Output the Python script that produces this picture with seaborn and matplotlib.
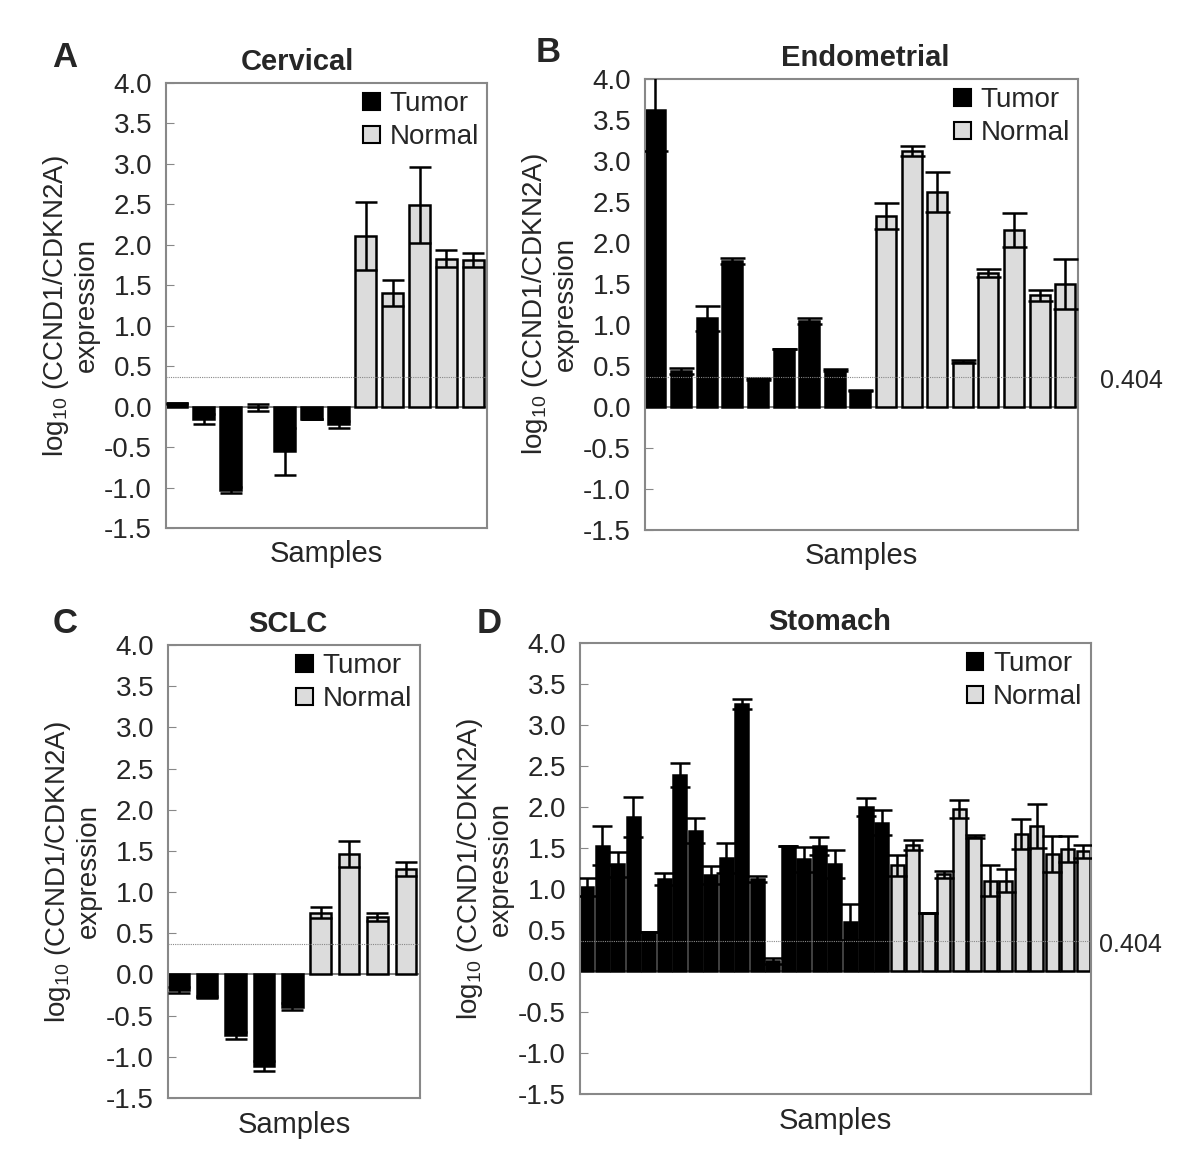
import pandas as pd
import seaborn as sns
import matplotlib
matplotlib.use("Agg")
import matplotlib.pyplot as plt
import matplotlib.transforms as mtransforms
from matplotlib.patches import Patch

# Values (log10 CCND1/CDKN2A ratio, mean and error)
cervical_tumor = [0.04, -0.15, -1.03, -0.01, -0.55, -0.15, -0.22]
cervical_tumor_err = [0.01, 0.06, 0.04, 0.04, 0.29, 0.0, 0.04]
cervical_normal = [2.11, 1.40, 2.49, 1.83, 1.81]
cervical_normal_err = [0.42, 0.16, 0.47, 0.11, 0.09]

endometrial_tumor = [3.62, 0.44, 1.08, 1.78, 0.34, 0.71, 1.05, 0.45, 0.20]
endometrial_tumor_err = [0.50, 0.04, 0.15, 0.04, 0.01, 0.0, 0.04, 0.01, 0.01]
endometrial_normal = [2.33, 3.12, 2.62, 0.55, 1.63, 2.16, 1.36, 1.50]
endometrial_normal_err = [0.16, 0.06, 0.24, 0.02, 0.05, 0.21, 0.07, 0.30]

sclc_tumor = [-0.19, -0.27, -0.74, -1.11, -0.39]
sclc_tumor_err = [0.04, 0.01, 0.04, 0.06, 0.04]
sclc_normal = [0.75, 1.46, 0.70, 1.28]
sclc_normal_err = [0.07, 0.16, 0.05, 0.09]

stomach_tumor = [1.02, 1.53, 1.30, 1.88, 0.48, 1.12, 2.39, 1.71, 1.17, 1.38,
                 3.26, 1.12, 0.12, 1.52, 1.36, 1.52, 1.30, 0.60, 2.00, 1.81]
stomach_tumor_err = [0.11, 0.24, 0.15, 0.24, 0.0, 0.07, 0.15, 0.15, 0.11, 0.18,
                     0.06, 0.04, 0.04, 0.0, 0.15, 0.11, 0.17, 0.22, 0.11, 0.15]
stomach_normal = [1.29, 1.54, 0.71, 1.18, 1.97, 1.64, 1.10, 1.10, 1.67, 1.77,
                  1.43, 1.49, 1.46]
stomach_normal_err = [0.13, 0.06, 0.0, 0.04, 0.11, 0.02, 0.19, 0.14, 0.18, 0.27,
                      0.22, 0.16, 0.08]

threshold = 0.37
threshold_label = "0.404"
y_ticks = [-1.5, -1.0, -0.5, 0.0, 0.5, 1.0, 1.5, 2.0, 2.5, 3.0, 3.5, 4.0]

sns.set_style("ticks")
plt.rcParams["font.family"] = ["Liberation Sans", "DejaVu Sans"]
plt.rcParams["mathtext.default"] = "regular"

palette = {"Tumor": "black", "Normal": "#dcdcdc"}


def draw_panel(ax, title, title_x, tumor, tumor_err, normal, normal_err,
               width, capsize, thr_offset=None):
    vals = tumor + normal
    errs = tumor_err + normal_err
    df = pd.DataFrame({
        "sample": [str(i + 1) for i in range(len(vals))],
        "value": vals,
        "err": errs,
        "group": ["Tumor"] * len(tumor) + ["Normal"] * len(normal),
    })
    sns.barplot(data=df, x="sample", y="value", hue="group", palette=palette,
                order=list(df["sample"]), dodge=False, width=width,
                edgecolor="black", linewidth=1.8, legend=False, ax=ax, zorder=2)
    ax.errorbar(range(len(df)), df["value"], yerr=df["err"], fmt="none",
                ecolor="black", elinewidth=1.8, capsize=capsize, capthick=1.8, zorder=3)
    ax.axhline(0, color="#777777", lw=1.3, zorder=1)
    ax.axhline(threshold, color="#888888", lw=0.8, ls=(0, (1, 1)), zorder=4)

    ax.set_ylim(-1.5, 4.0)
    ax.set_xlim(-0.5 + (1 - width) / 2 - 0.02, len(df) - 0.5)
    ax.set_yticks(y_ticks)
    ax.set_yticklabels([f"{t:.1f}" for t in y_ticks])
    ax.set_xticks([])
    ax.tick_params(axis="y", direction="in", length=6, color="#888888",
                   labelsize=20, pad=10)
    for sp in ax.spines.values():
        sp.set_visible(True)
        sp.set_color("#888888")
        sp.set_linewidth(1.5)

    ax.set_title(title, fontsize=21, fontweight="bold", pad=9, x=title_x)
    ax.set_xlabel("Samples", fontsize=21, labelpad=9)
    ax.set_ylabel("log$_{10}$ (CCND1/CDKN2A)\nexpression", fontsize=20,
                  labelpad=3, linespacing=1.15)

    handles = [Patch(facecolor="black", edgecolor="black", lw=1.5, label="Tumor"),
               Patch(facecolor="#dcdcdc", edgecolor="black", lw=1.5, label="Normal")]
    ax.legend(handles=handles, loc="upper right", frameon=False, fontsize=20,
              handlelength=0.6, handleheight=0.6, handletextpad=0.35,
              labelspacing=0.25, borderaxespad=0.05, borderpad=0.25)

    if thr_offset is not None:
        trans = mtransforms.blended_transform_factory(ax.transAxes, ax.transData)
        ax.annotate(threshold_label, xy=(1.0, threshold - 0.05), xycoords=trans,
                    xytext=(thr_offset, 0), textcoords="offset pixels",
                    fontsize=18, va="center", ha="left")


fig = plt.figure(figsize=(12, 11.64), dpi=100)

ax_a = fig.add_axes([0.1383, 0.5464, 0.2675, 0.3823])
ax_b = fig.add_axes([0.5375, 0.5447, 0.3608, 0.3875])
ax_c = fig.add_axes([0.1400, 0.0567, 0.2100, 0.3892])
ax_d = fig.add_axes([0.4833, 0.0601, 0.4258, 0.3875])

draw_panel(ax_a, "Cervical", 0.41, cervical_tumor, cervical_tumor_err,
           cervical_normal, cervical_normal_err, 0.76, 8)
draw_panel(ax_b, "Endometrial", 0.508, endometrial_tumor, endometrial_tumor_err,
           endometrial_normal, endometrial_normal_err, 0.78, 9, thr_offset=22)
draw_panel(ax_c, "SCLC", 0.476, sclc_tumor, sclc_tumor_err,
           sclc_normal, sclc_normal_err, 0.72, 8)
draw_panel(ax_d, "Stomach", 0.489, stomach_tumor, stomach_tumor_err,
           stomach_normal, stomach_normal_err, 0.84, 7, thr_offset=8)

for letter, x, y in [("A", 0.054, 0.951), ("B", 0.457, 0.955),
                     ("C", 0.054, 0.464), ("D", 0.408, 0.464)]:
    fig.text(x, y, letter, fontsize=25, fontweight="bold", ha="center", va="center")

fig.savefig("out.png", dpi=100)
